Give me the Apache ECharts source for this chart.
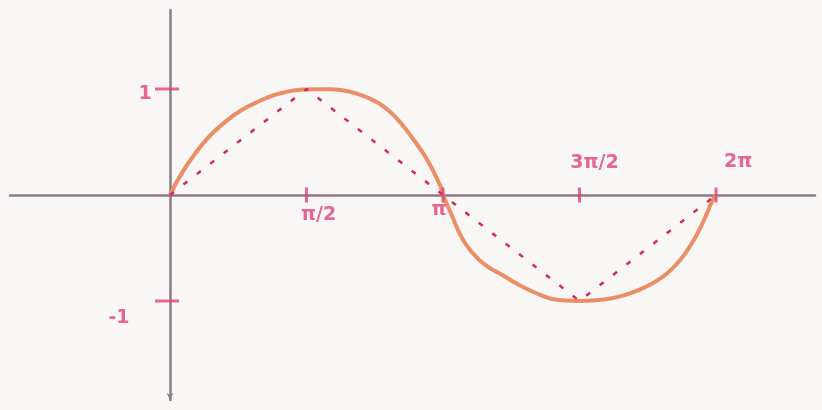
<!DOCTYPE html>
<html>
<head>
<meta charset="utf-8">
<script src="https://cdn.jsdelivr.net/npm/echarts@6/dist/echarts.min.js"></script>
<style>
  html, body { margin: 0; padding: 0; background: #f8f7f5; }
  #chart { width: 822px; height: 410px; }
</style>
</head>
<body>
<div id="chart"></div>
<script>
const PI = Math.PI;

// Hand-traced sine curve: [x in radians, y]
const curveX = [0, 0.113, 0.262, 0.450, 0.638, 0.825, 1.013, 1.201, 1.464, 1.652, 1.835,
  2.140, 2.398, 2.590, 2.778, 2.961, 3.115, PI,
  3.233, 3.351, 3.469, 3.626, 3.823, 4.019, 4.216, 4.414, 4.689, 5.083, 5.397,
  5.673, 5.870, 6.027, 6.145, 6.245, 2 * PI];
const curveY = [0, 0.173, 0.361, 0.550, 0.692, 0.802, 0.880, 0.943, 0.991, 0.997, 0.997,
  0.959, 0.868, 0.739, 0.550, 0.330, 0.078, 0,
  -0.173, -0.393, -0.535, -0.660, -0.755, -0.849, -0.927, -0.984, -1.0, -0.975, -0.896,
  -0.771, -0.613, -0.425, -0.236, -0.047, 0];

// Chords joining the quarter-period points
const chordX = [0, PI / 2, PI, 3 * PI / 2, 2 * PI];
const chordY = [0, 1, 0, -1, 0];

// Axis tick marks and their labels
const xTickValues = [PI / 2, PI, 3 * PI / 2, 2 * PI];
const xTickLabels = ['π/2', 'π', '3π/2', '2π'];
const yTickValues = [1, -1];
const yTickLabels = ['1', '-1'];

// label offsets (px) from each tick mark
const xLabelOffsets = [[12, 20], [-4, 15], [15, -32], [22, -33]];
const yLabelOffsets = [[-22, 5], [-48, 17]];

const pink = '#e0407a';
const axisColor = '#8f7b88';
const labelFont = { color: pink, fontSize: 19, fontFamily: 'DejaVu Sans', fontWeight: 'bold' };

const chart = echarts.init(document.getElementById('chart'));

chart.setOption({
  backgroundColor: '#f8f7f5',
  animation: false,
  grid: { left: 10, right: 7, top: 10, bottom: 10 },
  xAxis: {
    type: 'value',
    min: -1.841, max: 7.422,
    axisLine: { onZero: true, lineStyle: { color: axisColor, width: 2.5 } },
    axisTick: { show: false },
    axisLabel: { show: false },
    splitLine: { show: false }
  },
  yAxis: {
    type: 'value',
    min: -1.934, max: 1.745,
    axisLine: { onZero: true, symbol: ['arrow', 'none'], symbolSize: [5, 7],
      lineStyle: { color: axisColor, width: 2.5 } },
    axisTick: { show: false },
    axisLabel: { show: false },
    splitLine: { show: false }
  },
  series: [
    {
      type: 'line',
      data: curveX.map((x, i) => [x, curveY[i]]),
      smooth: 0.4,
      showSymbol: false,
      lineStyle: { color: '#eb8e66', width: 4 },
      z: 3
    },
    {
      type: 'line',
      data: chordX.map((x, i) => [x, chordY[i]]),
      showSymbol: false,
      lineStyle: { color: '#d42a5a', width: 2.5, type: [5, 12] },
      z: 4
    },
    {
      type: 'scatter',
      symbol: 'rect',
      symbolSize: [3, 15],
      itemStyle: { color: pink },
      data: xTickValues.map((x, i) => ({
        value: [x, 0],
        label: {
          show: true, position: 'inside', formatter: xTickLabels[i],
          offset: xLabelOffsets[i], ...labelFont
        }
      })),
      z: 5
    },
    {
      type: 'scatter',
      symbol: 'rect',
      symbolSize: [24, 3],
      symbolOffset: [-3, 0],
      itemStyle: { color: pink },
      data: yTickValues.map((y, i) => ({
        value: [0, y],
        label: {
          show: true, position: 'inside', formatter: yTickLabels[i],
          offset: yLabelOffsets[i], ...labelFont
        }
      })),
      z: 5
    }
  ]
});
</script>
</body>
</html>
